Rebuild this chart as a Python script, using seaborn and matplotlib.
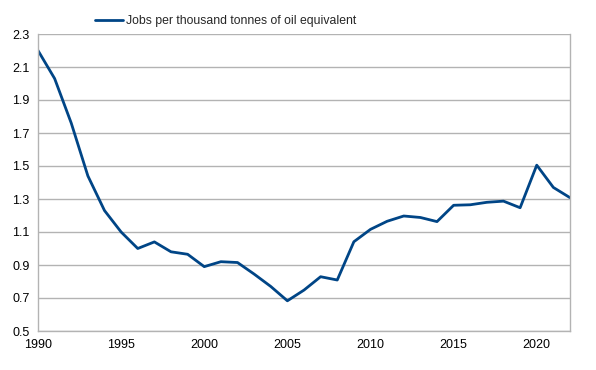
import matplotlib
matplotlib.use("Agg")
import matplotlib.pyplot as plt
import seaborn as sns
import pandas as pd

years = list(range(1990, 2023))
jobs = [2.20, 2.03, 1.76, 1.44, 1.23, 1.10, 1.00, 1.04, 0.98, 0.965,
        0.89, 0.92, 0.915, 0.845, 0.77, 0.683, 0.748, 0.829, 0.809, 1.041,
        1.116, 1.165, 1.197, 1.188, 1.163, 1.262, 1.265, 1.28, 1.287, 1.247,
        1.505, 1.37, 1.308]
series_name = "Jobs per thousand tonnes of oil equivalent"

df = pd.DataFrame({"Year": years, "Value": jobs, "Series": series_name})

sns.set_style("white")
plt.rcParams["font.family"] = ["Liberation Sans", "DejaVu Sans"]

fig = plt.figure(figsize=(5.96, 3.70), dpi=100)
ax = fig.add_axes([38/596, 1-331/370, (570-38)/596, (331-34)/370])

sns.lineplot(data=df, x="Year", y="Value", hue="Series", palette=["#004586"],
             linewidth=2.0, ax=ax, legend=True)

ax.set_xlim(1990, 2022)
ax.set_ylim(0.5, 2.3)
ax.set_xticks(range(1990, 2021, 5))
ax.set_yticks([0.5, 0.7, 0.9, 1.1, 1.3, 1.5, 1.7, 1.9, 2.1, 2.3])
ax.set_yticklabels(["0.5", "0.7", "0.9", "1.1", "1.3", "1.5", "1.7", "1.9", "2.1", "2.3"])
ax.set_xlabel("")
ax.set_ylabel("")
ax.grid(axis="y", color="#b3b3b3", linewidth=1.0)
ax.set_axisbelow(True)
for s in ["left", "bottom", "right"]:
    ax.spines[s].set_color("#b3b3b3")
    ax.spines[s].set_linewidth(1.0)
ax.spines["top"].set_visible(False)
ax.tick_params(axis="both", which="both", direction="out", length=4, width=1,
               color="#b3b3b3", labelsize=9, labelcolor="black", pad=2)

leg = ax.legend(loc="center left", bbox_to_anchor=(95/596, 1-21/370),
                bbox_transform=fig.transFigure,
                frameon=False, fontsize=8.8, handlelength=2.3, handletextpad=0.25,
                borderaxespad=0, borderpad=0)

fig.savefig("out.png", dpi=100)
